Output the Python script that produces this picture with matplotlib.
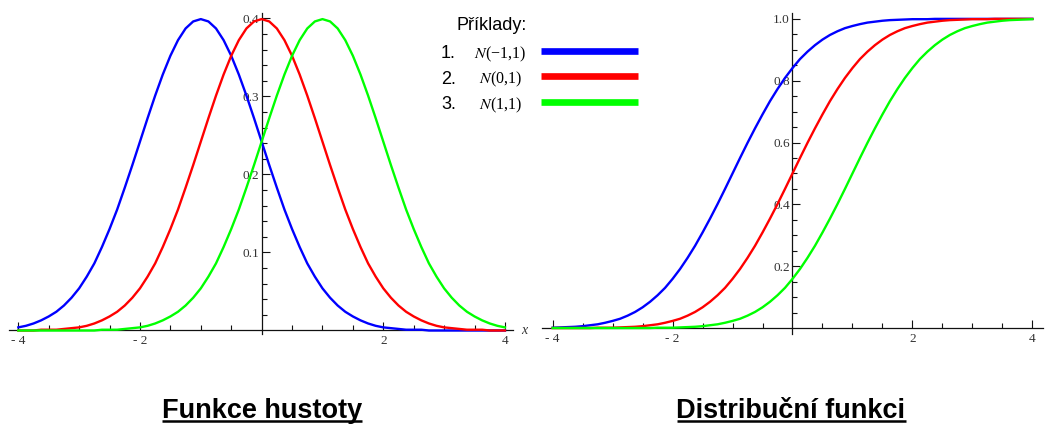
import numpy as np
import matplotlib.pyplot as plt
from matplotlib.lines import Line2D

# sample positions along x (every 1/8)
x_values = [-4.0, -3.875, -3.75, -3.625, -3.5, -3.375, -3.25, -3.125,
            -3.0, -2.875, -2.75, -2.625, -2.5, -2.375, -2.25, -2.125,
            -2.0, -1.875, -1.75, -1.625, -1.5, -1.375, -1.25, -1.125,
            -1.0, -0.875, -0.75, -0.625, -0.5, -0.375, -0.25, -0.125,
            0.0, 0.125, 0.25, 0.375, 0.5, 0.625, 0.75, 0.875,
            1.0, 1.125, 1.25, 1.375, 1.5, 1.625, 1.75, 1.875,
            2.0, 2.125, 2.25, 2.375, 2.5, 2.625, 2.75, 2.875,
            3.0, 3.125, 3.25, 3.375, 3.5, 3.625, 3.75, 3.875, 4.0]

# density curves
pdf_blue = [0.004, 0.006, 0.009, 0.013, 0.018, 0.024, 0.032, 0.042,
            0.054, 0.069, 0.086, 0.107, 0.130, 0.155, 0.183, 0.212,
            0.242, 0.272, 0.301, 0.328, 0.352, 0.372, 0.387, 0.396,
            0.399, 0.396, 0.387, 0.372, 0.352, 0.328, 0.301, 0.272,
            0.242, 0.212, 0.183, 0.155, 0.130, 0.107, 0.086, 0.069,
            0.054, 0.042, 0.032, 0.024, 0.018, 0.013, 0.009, 0.006,
            0.004, 0.003, 0.002, 0.001, 0.001, 0.001, 0.000, 0.000,
            0.000, 0.000, 0.000, 0.000, 0.000, 0.000, 0.000, 0.000, 0.000]
pdf_red = [0.000, 0.000, 0.000, 0.001, 0.001, 0.001, 0.002, 0.003,
           0.004, 0.006, 0.009, 0.013, 0.018, 0.024, 0.032, 0.042,
           0.054, 0.069, 0.086, 0.107, 0.130, 0.155, 0.183, 0.212,
           0.242, 0.272, 0.301, 0.328, 0.352, 0.372, 0.387, 0.396,
           0.399, 0.396, 0.387, 0.372, 0.352, 0.328, 0.301, 0.272,
           0.242, 0.212, 0.183, 0.155, 0.130, 0.107, 0.086, 0.069,
           0.054, 0.042, 0.032, 0.024, 0.018, 0.013, 0.009, 0.006,
           0.004, 0.003, 0.002, 0.001, 0.001, 0.001, 0.000, 0.000, 0.000]
pdf_green = [0.000, 0.000, 0.000, 0.000, 0.000, 0.000, 0.000, 0.000,
             0.000, 0.000, 0.000, 0.001, 0.001, 0.001, 0.002, 0.003,
             0.004, 0.006, 0.009, 0.013, 0.018, 0.024, 0.032, 0.042,
             0.054, 0.069, 0.086, 0.107, 0.130, 0.155, 0.183, 0.212,
             0.242, 0.272, 0.301, 0.328, 0.352, 0.372, 0.387, 0.396,
             0.399, 0.396, 0.387, 0.372, 0.352, 0.328, 0.301, 0.272,
             0.242, 0.212, 0.183, 0.155, 0.130, 0.107, 0.086, 0.069,
             0.054, 0.042, 0.032, 0.024, 0.018, 0.013, 0.009, 0.006, 0.004]

# distribution curves
cdf_blue = [0.001, 0.002, 0.003, 0.004, 0.006, 0.009, 0.012, 0.017,
            0.023, 0.030, 0.040, 0.052, 0.067, 0.085, 0.106, 0.130,
            0.159, 0.191, 0.227, 0.266, 0.309, 0.354, 0.401, 0.450,
            0.500, 0.550, 0.599, 0.646, 0.691, 0.734, 0.773, 0.809,
            0.841, 0.870, 0.894, 0.915, 0.933, 0.948, 0.960, 0.970,
            0.977, 0.983, 0.988, 0.991, 0.994, 0.996, 0.997, 0.998,
            0.999, 0.999, 0.999, 1.000, 1.000, 1.000, 1.000, 1.000,
            1.000, 1.000, 1.000, 1.000, 1.000, 1.000, 1.000, 1.000, 1.000]
cdf_red = [0.000, 0.000, 0.000, 0.000, 0.000, 0.000, 0.001, 0.001,
           0.001, 0.002, 0.003, 0.004, 0.006, 0.009, 0.012, 0.017,
           0.023, 0.030, 0.040, 0.052, 0.067, 0.085, 0.106, 0.130,
           0.159, 0.191, 0.227, 0.266, 0.309, 0.354, 0.401, 0.450,
           0.500, 0.550, 0.599, 0.646, 0.691, 0.734, 0.773, 0.809,
           0.841, 0.870, 0.894, 0.915, 0.933, 0.948, 0.960, 0.970,
           0.977, 0.983, 0.988, 0.991, 0.994, 0.996, 0.997, 0.998,
           0.999, 0.999, 0.999, 1.000, 1.000, 1.000, 1.000, 1.000, 1.000]
cdf_green = [0.000, 0.000, 0.000, 0.000, 0.000, 0.000, 0.000, 0.000,
             0.000, 0.000, 0.000, 0.000, 0.000, 0.000, 0.001, 0.001,
             0.001, 0.002, 0.003, 0.004, 0.006, 0.009, 0.012, 0.017,
             0.023, 0.030, 0.040, 0.052, 0.067, 0.085, 0.106, 0.130,
             0.159, 0.191, 0.227, 0.266, 0.309, 0.354, 0.401, 0.450,
             0.500, 0.550, 0.599, 0.646, 0.691, 0.734, 0.773, 0.809,
             0.841, 0.870, 0.894, 0.915, 0.933, 0.948, 0.960, 0.970,
             0.977, 0.983, 0.988, 0.991, 0.994, 0.996, 0.997, 0.998, 0.999]

series_colors = ["#0000ff", "#ff0000", "#00ff00"]
legend_numbers = ["1.", "2.", "3."]
legend_labels = ["$N$(\u22121,1)", "$N$(0,1)", "$N$(1,1)"]
legend_title = "Příklady:"

x_major = [-4, -2, 2, 4]
x_major_labels = ["- 4", "- 2", "2", "4"]
pdf_yticks = [0.1, 0.2, 0.3, 0.4]
pdf_ylabels = ["0.1", "0.2", "0.3", "0.4"]
cdf_yticks = [0.2, 0.4, 0.6, 0.8, 1.0]
cdf_ylabels = ["0.2", "0.4", "0.6", "0.8", "1.0"]
titles = ["Funkce hustoty", "Distribuční funkci"]

plt.rcParams['mathtext.fontset'] = 'stix'
W, H = 1051, 425
fig = plt.figure(figsize=(W / 100, H / 100), dpi=100)

ax1 = fig.add_axes([9.3 / W, 90.6 / H, 504 / W, 321.7 / H])
ax2 = fig.add_axes([542.3 / W, 90.8 / H, 500.4 / W, 321.5 / H])


def minor_positions(start, stop, step, majors):
    vals = np.round(np.arange(start, stop + step / 2, step), 4)
    return [v for v in vals if not any(abs(v - m) < 1e-6 for m in majors) and abs(v) > 1e-6]


def style_axes(ax, xlim, ylim, yticks, ylabels, yminor):
    ax.set_xlim(*xlim)
    ax.set_ylim(*ylim)
    ax.patch.set_alpha(0)
    ax.spines['top'].set_visible(False)
    ax.spines['right'].set_visible(False)
    ax.spines['left'].set_position(('data', 0))
    ax.spines['bottom'].set_position(('data', 0))
    for s in ['left', 'bottom']:
        ax.spines[s].set_linewidth(0.9)
        ax.spines[s].set_color('#111111')
    ax.set_xticks(x_major, x_major_labels)
    ax.set_xticks(minor_positions(-4, 4, 0.5, x_major), minor=True)
    ax.set_yticks(yticks, ylabels)
    ax.set_yticks(yminor, minor=True)
    ax.tick_params(which='major', direction='in', length=5.5, width=0.8,
                   labelsize=9.5, pad=2, labelcolor='#333333', color='#111111')
    ax.tick_params(axis='x', which='major', pad=3.5)
    ax.tick_params(which='minor', direction='in', length=3.5, width=0.8, color='#111111')
    for lab in ax.get_xticklabels() + ax.get_yticklabels():
        lab.set_fontfamily('Liberation Serif')


style_axes(ax1, (-4.148, 4.137), (-0.005, 0.4072), pdf_yticks, pdf_ylabels,
           minor_positions(0, 0.4, 0.02, pdf_yticks))
style_axes(ax2, (-4.173, 4.173), (-0.02, 1.02), cdf_yticks, cdf_ylabels,
           minor_positions(0, 1.0, 0.05, cdf_yticks))

for ys, col in zip([pdf_blue, pdf_red, pdf_green], series_colors):
    ax1.plot(x_values, ys, color=col, lw=1.7, clip_on=False, zorder=3)
for ys, col in zip([cdf_blue, cdf_red, cdf_green], series_colors):
    ax2.plot(x_values, ys, color=col, lw=1.7, clip_on=False, zorder=3)

fig.text(524 / W, 1 - 330.7 / H, "x", family='Liberation Serif', style='italic',
         fontsize=10, color='#333333', ha='center', va='center')

# legend block
fig.text(457 / W, 1 - 30 / H, legend_title, family='Liberation Sans', fontsize=13,
         ha='left', va='baseline')
row_lines = [50.7, 76, 102]
row_base = [58.3, 83.6, 109.3]
for num, lab, col, yl, yb in zip(legend_numbers, legend_labels, series_colors, row_lines, row_base):
    fig.text(441 / W, 1 - yb / H, num, family='Liberation Sans', fontsize=13,
             ha='left', va='baseline')
    fig.text(500 / W, 1 - yb / H, lab, family='Liberation Serif', fontsize=11.5,
             ha='center', va='baseline')
    fig.add_artist(Line2D([541 / W, 638 / W], [1 - yl / H, 1 - yl / H],
                          transform=fig.transFigure, color=col, lw=4.8,
                          solid_capstyle='butt'))

# underlined panel titles
renderer = fig.canvas.get_renderer()
for title, xc in zip(titles, [262, 791]):
    t = fig.text(xc / W, 7.3 / H, title, family='Liberation Sans', weight='bold',
                 fontsize=19.5, ha='center', va='baseline')
    bb = t.get_window_extent(renderer=renderer)
    fig.add_artist(Line2D([bb.x0 / W, bb.x1 / W], [4 / H, 4 / H],
                          transform=fig.transFigure, color='black', lw=1.8,
                          solid_capstyle='butt'))

fig.savefig("out.png", dpi=100)
